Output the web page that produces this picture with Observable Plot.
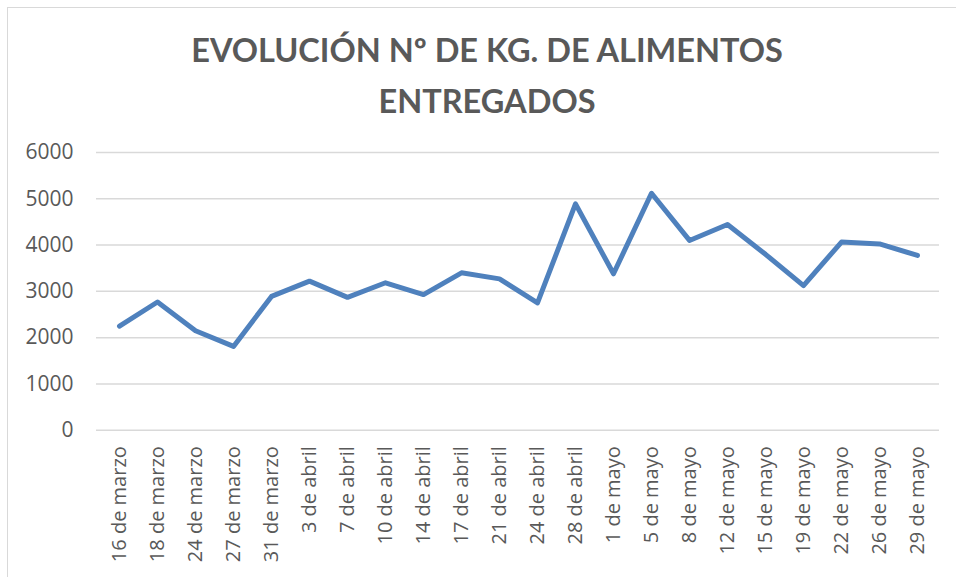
<!DOCTYPE html>
<html>
<head>
<meta charset="utf-8">
<script src="https://cdn.jsdelivr.net/npm/d3@7"></script>
<script src="https://cdn.jsdelivr.net/npm/@observablehq/plot@0.6"></script>
<style>
  html, body { margin: 0; padding: 0; background: #fff; }
  #wrap { position: relative; width: 956px; height: 577px; overflow: hidden; background: #fff; }
  #frame { position: absolute; left: 7px; top: 7px; width: 1200px; height: 1200px;
           border-left: 1.5px solid #d9d9d9; border-top: 1.5px solid #d9d9d9; }
  #title { position: absolute; left: 0; top: 24px; width: 974px; text-align: center;
           font-family: Lato, "Open Sans", sans-serif; font-weight: 700; font-size: 32.5px;
           line-height: 51px; color: #595959; }
  #chart { position: absolute; left: 0; top: 0; }
</style>
</head>
<body>
<div id="wrap">
  <div id="frame"></div>
  <div id="chart"></div>
  <div id="title">EVOLUCIÓN Nº DE KG. DE ALIMENTOS<br>ENTREGADOS</div>
</div>
<script>
const fechas = [
  "16 de marzo", "18 de marzo", "24 de marzo", "27 de marzo", "31 de marzo",
  "3 de abril", "7 de abril", "10 de abril", "14 de abril", "17 de abril",
  "21 de abril", "24 de abril", "28 de abril",
  "1 de mayo", "5 de mayo", "8 de mayo", "12 de mayo", "15 de mayo",
  "19 de mayo", "22 de mayo", "26 de mayo", "29 de mayo"
];
const kilos = [
  2250, 2770, 2150, 1810, 2890,
  3220, 2870, 3185, 2930, 3400,
  3270, 2750, 4890,
  3380, 5120, 4100, 4445, 3800,
  3125, 4065, 4025, 3775
];
const yTicks = [0, 1000, 2000, 3000, 4000, 5000, 6000];

const data = fechas.map((f, i) => ({fecha: f, kg: kilos[i]}));

const plot = Plot.plot({
  width: 956,
  height: 577,
  marginLeft: 96,
  marginRight: 17,
  marginTop: 152,
  marginBottom: 147.3,
  style: {fontFamily: "'Open Sans', sans-serif", color: "#595959", background: "transparent", overflow: "visible"},
  x: {type: "point", domain: fechas, padding: 0.5, label: null},
  y: {domain: [0, 6000], ticks: yTicks, label: null},
  marks: [
    Plot.gridY(yTicks, {stroke: "#d9d9d9", strokeOpacity: 1, strokeWidth: 1.5}),
    Plot.axisY(yTicks, {tickSize: 0, tickPadding: 23, fontSize: 21, fill: "#595959", label: null, tickFormat: d => String(d)}),
    Plot.axisX({tickSize: 0, tickPadding: 16, tickRotate: -90, textAnchor: "end", lineAnchor: "middle", fontSize: 20, fill: "#595959", label: null}),
    Plot.line(data, {x: "fecha", y: "kg", stroke: "#4f81bd", strokeWidth: 5, strokeLinecap: "round", strokeLinejoin: "round"})
  ]
});
document.getElementById("chart").appendChild(plot);
</script>
</body>
</html>
